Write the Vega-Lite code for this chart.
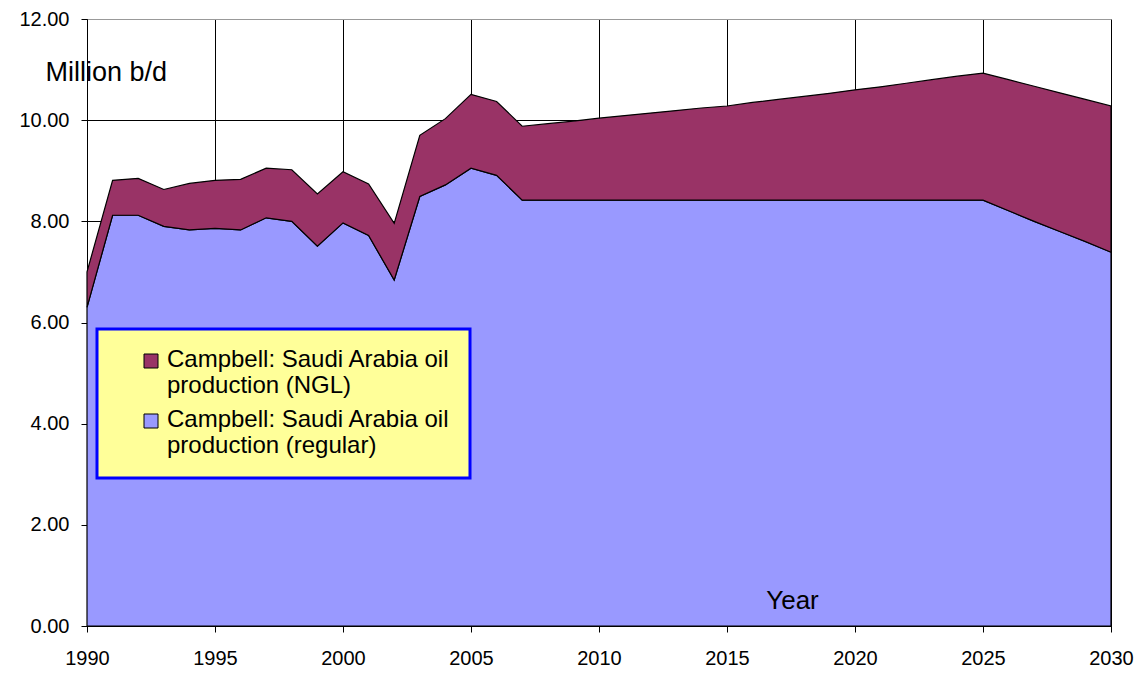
{
  "$schema": "https://vega.github.io/schema/vega-lite/v6.json",
  "width": 1024,
  "height": 607,
  "autosize": {"type": "none"},
  "padding": {"left": 87, "top": 19, "right": 31, "bottom": 47},
  "background": "white",
  "config": {
    "font": "Liberation Sans",
    "view": {"stroke": "#999999", "strokeWidth": 1},
    "axis": {
      "domainColor": "black",
      "tickColor": "black",
      "labelColor": "black",
      "titleColor": "black",
      "labelFont": "Liberation Sans",
      "titleFont": "Liberation Sans",
      "titleFontWeight": "normal",
      "gridColor": "black",
      "gridOpacity": 1,
      "gridWidth": 1,
      "tickSize": 6,
      "domainWidth": 1
    }
  },
  "data": {
    "values": [
      {"year": 1990, "series": "regular", "value": 6.30}, {"year": 1990, "series": "NGL", "value": 0.70},
      {"year": 1991, "series": "regular", "value": 8.12}, {"year": 1991, "series": "NGL", "value": 0.69},
      {"year": 1992, "series": "regular", "value": 8.12}, {"year": 1992, "series": "NGL", "value": 0.73},
      {"year": 1993, "series": "regular", "value": 7.90}, {"year": 1993, "series": "NGL", "value": 0.73},
      {"year": 1994, "series": "regular", "value": 7.83}, {"year": 1994, "series": "NGL", "value": 0.92},
      {"year": 1995, "series": "regular", "value": 7.86}, {"year": 1995, "series": "NGL", "value": 0.95},
      {"year": 1996, "series": "regular", "value": 7.83}, {"year": 1996, "series": "NGL", "value": 1.00},
      {"year": 1997, "series": "regular", "value": 8.07}, {"year": 1997, "series": "NGL", "value": 0.98},
      {"year": 1998, "series": "regular", "value": 8.00}, {"year": 1998, "series": "NGL", "value": 1.02},
      {"year": 1999, "series": "regular", "value": 7.51}, {"year": 1999, "series": "NGL", "value": 1.03},
      {"year": 2000, "series": "regular", "value": 7.97}, {"year": 2000, "series": "NGL", "value": 1.01},
      {"year": 2001, "series": "regular", "value": 7.72}, {"year": 2001, "series": "NGL", "value": 1.02},
      {"year": 2002, "series": "regular", "value": 6.84}, {"year": 2002, "series": "NGL", "value": 1.12},
      {"year": 2003, "series": "regular", "value": 8.49}, {"year": 2003, "series": "NGL", "value": 1.21},
      {"year": 2004, "series": "regular", "value": 8.72}, {"year": 2004, "series": "NGL", "value": 1.31},
      {"year": 2005, "series": "regular", "value": 9.05}, {"year": 2005, "series": "NGL", "value": 1.46},
      {"year": 2006, "series": "regular", "value": 8.91}, {"year": 2006, "series": "NGL", "value": 1.46},
      {"year": 2007, "series": "regular", "value": 8.42}, {"year": 2007, "series": "NGL", "value": 1.46},
      {"year": 2008, "series": "regular", "value": 8.42}, {"year": 2008, "series": "NGL", "value": 1.51},
      {"year": 2009, "series": "regular", "value": 8.42}, {"year": 2009, "series": "NGL", "value": 1.56},
      {"year": 2010, "series": "regular", "value": 8.42}, {"year": 2010, "series": "NGL", "value": 1.62},
      {"year": 2011, "series": "regular", "value": 8.42}, {"year": 2011, "series": "NGL", "value": 1.67},
      {"year": 2012, "series": "regular", "value": 8.42}, {"year": 2012, "series": "NGL", "value": 1.72},
      {"year": 2013, "series": "regular", "value": 8.42}, {"year": 2013, "series": "NGL", "value": 1.77},
      {"year": 2014, "series": "regular", "value": 8.42}, {"year": 2014, "series": "NGL", "value": 1.82},
      {"year": 2015, "series": "regular", "value": 8.42}, {"year": 2015, "series": "NGL", "value": 1.86},
      {"year": 2016, "series": "regular", "value": 8.42}, {"year": 2016, "series": "NGL", "value": 1.93},
      {"year": 2017, "series": "regular", "value": 8.42}, {"year": 2017, "series": "NGL", "value": 1.99},
      {"year": 2018, "series": "regular", "value": 8.42}, {"year": 2018, "series": "NGL", "value": 2.05},
      {"year": 2019, "series": "regular", "value": 8.42}, {"year": 2019, "series": "NGL", "value": 2.11},
      {"year": 2020, "series": "regular", "value": 8.42}, {"year": 2020, "series": "NGL", "value": 2.18},
      {"year": 2021, "series": "regular", "value": 8.42}, {"year": 2021, "series": "NGL", "value": 2.24},
      {"year": 2022, "series": "regular", "value": 8.42}, {"year": 2022, "series": "NGL", "value": 2.31},
      {"year": 2023, "series": "regular", "value": 8.42}, {"year": 2023, "series": "NGL", "value": 2.38},
      {"year": 2024, "series": "regular", "value": 8.42}, {"year": 2024, "series": "NGL", "value": 2.45},
      {"year": 2025, "series": "regular", "value": 8.42}, {"year": 2025, "series": "NGL", "value": 2.51},
      {"year": 2026, "series": "regular", "value": 8.21}, {"year": 2026, "series": "NGL", "value": 2.59},
      {"year": 2027, "series": "regular", "value": 8.00}, {"year": 2027, "series": "NGL", "value": 2.67},
      {"year": 2028, "series": "regular", "value": 7.80}, {"year": 2028, "series": "NGL", "value": 2.74},
      {"year": 2029, "series": "regular", "value": 7.60}, {"year": 2029, "series": "NGL", "value": 2.81},
      {"year": 2030, "series": "regular", "value": 7.39}, {"year": 2030, "series": "NGL", "value": 2.89}
    ]
  },
  "resolve": {"axis": {"x": "independent"}},
  "layer": [
    {
      "mark": {"type": "area", "stroke": "black", "strokeWidth": 1.2, "fillOpacity": 1},
      "encoding": {
        "x": {
          "field": "year",
          "type": "quantitative",
          "scale": {"domain": [1990, 2030], "nice": false, "zero": false},
          "axis": {
            "zindex": 0,
            "values": [1990, 1995, 2000, 2005, 2010, 2015, 2020, 2025, 2030],
            "format": "d",
            "labelFontSize": 20,
            "labelPadding": 16,
            "labelFlush": false,
            "labelOverlap": false,
            "title": null
          }
        },
        "y": {
          "field": "value",
          "type": "quantitative",
          "stack": "zero",
          "scale": {"domain": [0, 12], "nice": false},
          "axis": {
            "values": [0, 2, 4, 6, 8, 10, 12],
            "format": ".2f",
            "labelFontSize": 20,
            "labelPadding": 12,
            "title": "Million b/d",
            "titleFontSize": 27,
            "titleAngle": 0,
            "titleX": -42,
            "titleY": 53,
            "titleAlign": "left",
            "titleBaseline": "middle",
            "gridColor": {"condition": {"test": "datum.value == 12", "value": "#999999"}, "value": "black"}
          }
        },
        "color": {
          "field": "series",
          "type": "nominal",
          "scale": {"domain": ["NGL", "regular"], "range": ["#993366", "#9999FF"]},
          "legend": {
            "title": null,
            "orient": "none",
            "legendX": 10,
            "legendY": 310,
            "padding": 20,
            "fillColor": "#FFFF99",
            "strokeColor": "#0000FF",
            "symbolType": "square",
            "symbolSize": 196,
            "symbolStrokeColor": "black",
            "symbolStrokeWidth": 1,
            "symbolFillOpacity": 1,
            "symbolOffset": 22,
            "labelFontSize": 24,
            "labelColor": "black",
            "labelLimit": 500,
            "labelOffset": 4,
            "labelBaseline": "alphabetic",
            "rowPadding": 10,
            "labelExpr": "['Campbell: Saudi Arabia oil', 'production (' + datum.label + ')']",
            "encode": {
              "labels": {"update": {"lineHeight": {"value": 26}, "dy": {"value": 6}}},
              "legend": {"update": {"strokeWidth": {"value": 3}}}
            }
          }
        }
      }
    },
    {
      "mark": {"type": "point", "opacity": 0},
      "encoding": {
        "x": {
          "field": "year",
          "type": "quantitative",
          "axis": {
            "orient": "bottom",
            "zindex": 1,
            "grid": false,
            "labels": false,
            "ticks": false,
            "domain": false,
            "title": "Year",
            "titleFontSize": 26,
            "titleX": 705,
            "titleY": -26,
            "titleAnchor": null,
            "titleAlign": "center",
            "titleBaseline": "middle"
          }
        }
      }
    }
  ]
}
